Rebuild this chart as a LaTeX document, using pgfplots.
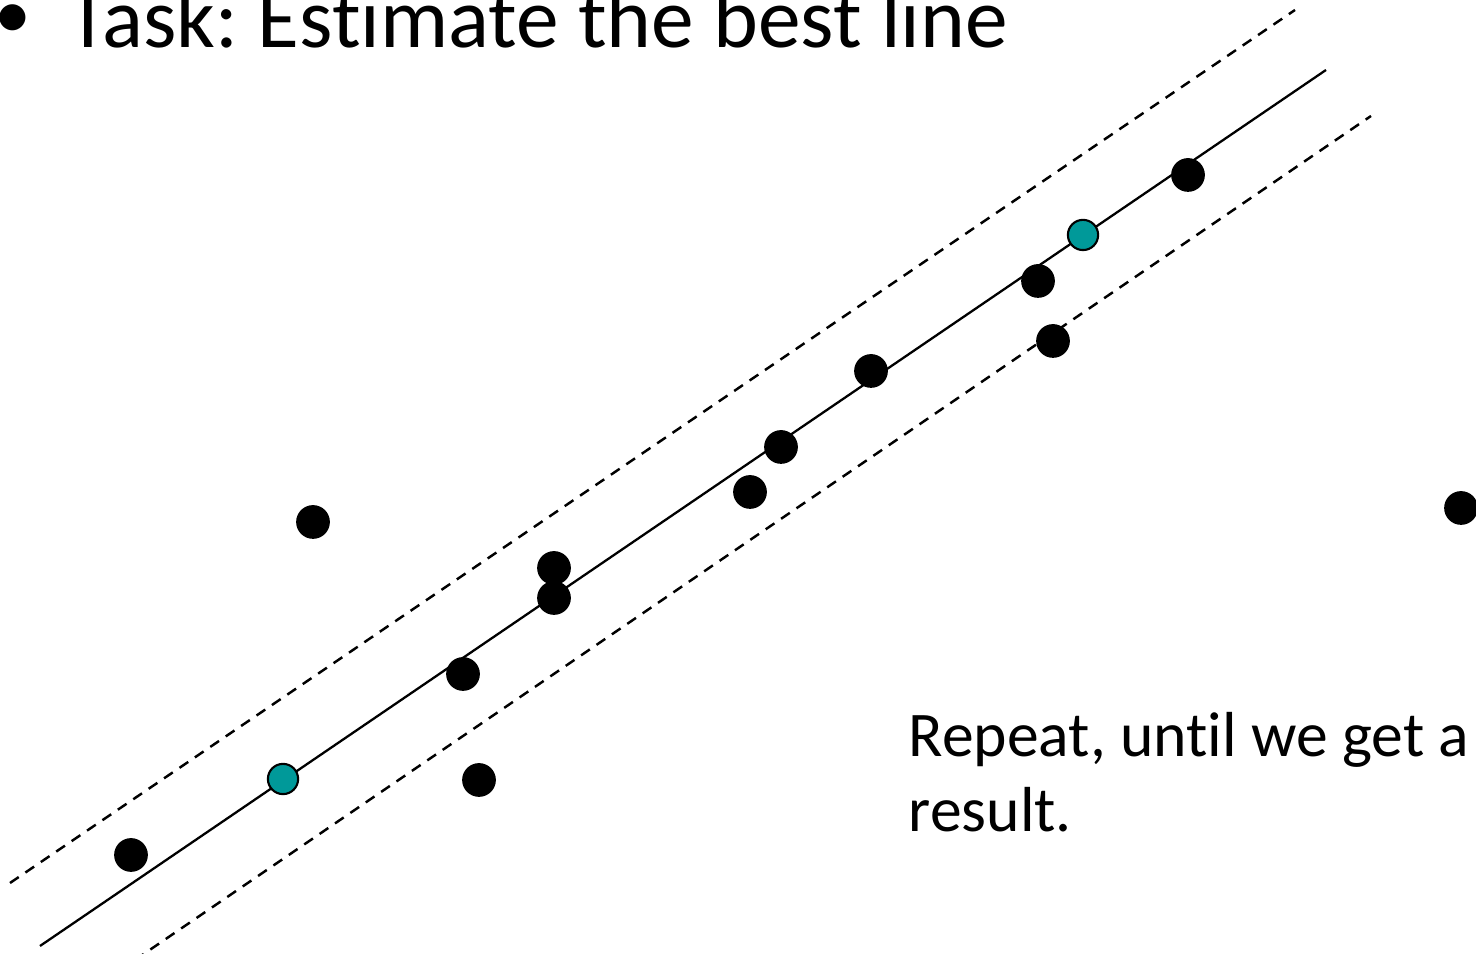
\documentclass[border=0pt]{standalone}
\usepackage{pgfplots}
\pgfplotsset{compat=1.18}
\usepackage{fontspec}
\setmainfont{Carlito}[Ligatures=NoCommon]
\frenchspacing
\definecolor{tealdot}{RGB}{0,153,153}
\begin{document}
\begin{tikzpicture}
\begin{axis}[at={(0,0)}, anchor=south west, scale only axis,
  width=14.76cm, height=9.54cm, hide axis,
  xmin=0, xmax=1476, ymin=-954, ymax=0, clip=true]
\addplot[black, line width=0.65pt] coordinates {(40,-946) (1326,-70)};
\addplot[black, line width=0.7pt, dash pattern=on 3pt off 2.3pt] coordinates {(10,-883) (1295,-10)};
\addplot[black, line width=0.7pt, dash pattern=on 3pt off 2.3pt] coordinates {(135,-960) (1371,-116)};
\addplot[only marks, mark=*, mark size=4.6pt, mark options={fill=black, draw=black}] coordinates {
(131,-855) (313,-522) (463,-674) (479,-780) (554,-568) (554,-598) (750,-492) (781,-447)
(871,-371) (1038,-281) (1053,-341) (1188,-175) (1461,-508)};
\addplot[only marks, mark=*, mark size=4.3pt, mark options={fill=tealdot, draw=black, line width=0.6pt}] coordinates {
(283,-779) (1083,-235)};
\node[anchor=base west, inner sep=0pt, font=\fontsize{18.1pt}{22pt}\selectfont] at (axis cs:908,-757) {Repeat, until we get a};
\node[anchor=base west, inner sep=0pt, font=\fontsize{18.1pt}{22pt}\selectfont] at (axis cs:908,-832) {result.};
\node[anchor=base west, inner sep=0pt, font=\fontsize{24.3pt}{29pt}\selectfont] at (axis cs:67,-48) {Task: Estimate the best line};
\node[anchor=base west, inner sep=0pt, font=\fontsize{21pt}{25pt}\selectfont] at (axis cs:-6,-39) {•};
\end{axis}
\pgfresetboundingbox
\useasboundingbox (0,0) rectangle (14.76cm,9.54cm);
\end{tikzpicture}
\end{document}
